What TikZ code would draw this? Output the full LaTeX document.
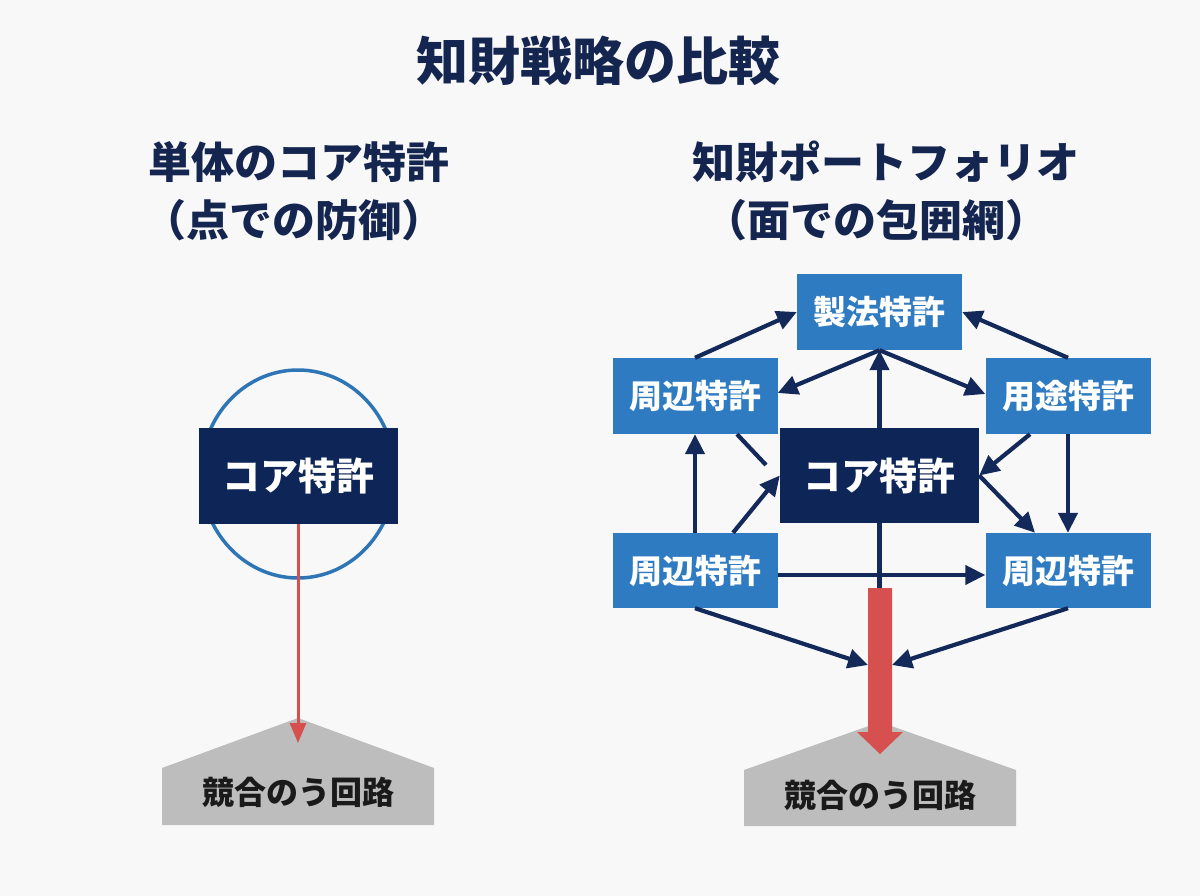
\documentclass[tikz,border=0pt]{standalone}
\usepackage{fontspec}
\usetikzlibrary{arrows.meta}
\newfontfamily\jp{Noto Sans CJK JP}
\definecolor{bg}{HTML}{F8F8F9}
\definecolor{navy}{HTML}{14254F}
\definecolor{corefill}{HTML}{0E2557}
\definecolor{arrnavy}{HTML}{13295A}
\definecolor{pblue}{HTML}{2F7BC1}
\definecolor{ringblue}{HTML}{2E75B6}
\definecolor{redc}{HTML}{D65050}
\definecolor{grayc}{HTML}{BDBDBD}
\definecolor{txtdark}{HTML}{1A1A1A}
\begin{document}
\begin{tikzpicture}[x=1pt,y=-1pt,
  titlestyle/.style={text=navy,font=\jp\bfseries\fontsize{52}{60}\selectfont,inner sep=0pt},
  headstyle/.style={text=navy,font=\jp\bfseries\fontsize{43}{50}\selectfont,inner sep=0pt},
  pbox/.style={fill=pblue,text=white,minimum width=165pt,minimum height=76pt,inner sep=0pt,font=\jp\bfseries\fontsize{33}{38}\selectfont},
  corebox/.style={fill=corefill,text=white,minimum width=199pt,minimum height=96pt,inner sep=0pt,font=\jp\bfseries\fontsize{38}{44}\selectfont},
  graytext/.style={text=txtdark,inner sep=0pt,font=\jp\bfseries\fontsize{32}{38}\selectfont},
  arr/.style={draw=arrnavy,line width=4.2pt,-{Triangle[length=20pt,width=19pt]}},
  plainline/.style={draw=arrnavy,line width=4.2pt},
  redarr/.style={draw=redc,line width=3pt,-{Triangle[length=20pt,width=16pt]}},
  pentagon/.style={fill=grayc}
]
\fill[bg] (0,0) rectangle (1200,896);
\useasboundingbox (0,0) rectangle (1200,896);

% title and headings
\node[titlestyle] (title) at (598,61) {知財戦略の比較};
\node[headstyle] (lh1) at (299,162) {単体のコア特許};
\node[headstyle] (lh2) at (294,220) {（点での防御）};
\node[headstyle] (rh1) at (886,162) {知財ポートフォリオ};
\node[headstyle] (rh2) at (876,220) {（面での包囲網）};

% ---------- left diagram ----------
\draw[ringblue,line width=3.5pt] (298,474) ellipse [x radius=97, y radius=104];
\node[corebox] (lcore) at (298,476) {コア特許};
\fill[pentagon] (162,768) -- (298,718) -- (434,768) -- (434,825) -- (162,825) -- cycle;
\node[graytext] (lgoal) at (298,792) {競合のう回路};
\coordinate (ltip) at (298,743);
\draw[redarr] (lcore.south) -- (ltip);

% ---------- right diagram ----------
\node[pbox] (seiho) at (879.5,312) {製法特許};
\node[pbox] (tl) at (695,396) {周辺特許};
\node[pbox] (yoto) at (1068,396) {用途特許};
\node[pbox,minimum height=75pt] (bl) at (695,570.5) {周辺特許};
\node[pbox,minimum height=75pt] (br) at (1068,570.5) {周辺特許};
\node[corebox,minimum height=95pt] (rcore) at (879.5,475.5) {コア特許};

\fill[pentagon] (744,770) -- (880,722) -- (1016,770) -- (1016,826) -- (744,826) -- cycle;
\node[graytext] (rgoal) at (880,795) {競合のう回路};

\coordinate (tlend) at (766,465);
\coordinate (redtop) at (879.5,590);
\coordinate (redL) at (868,665);
\coordinate (redR) at (892,665);

\draw[arr] (tl.north) -- (seiho.west);
\draw[arr] (yoto.north) -- (seiho.east);
\draw[arr] (seiho.south) -- ([yshift=3pt]tl.east);
\draw[arr] (seiho.south) -- ([yshift=2pt]yoto.west);
\draw[arr] (rcore.north) -- (seiho.south);
\draw[arr] (bl.north) -- (tl.south);
\draw[arr] ([xshift=38pt]bl.north) -- (rcore.west);
\draw[plainline] ([xshift=42pt]tl.south) -- (tlend);
\draw[arr] ([xshift=-38pt]yoto.south) -- (rcore.east);
\draw[arr] (rcore.east) -- ([xshift=-33pt]br.north);
\draw[arr] (yoto.south) -- (br.north);
\draw[plainline] (rcore.south) -- (redtop);
\draw[arr] ([yshift=-4.5pt]bl.east) -- ([yshift=-4.5pt]br.west);
\draw[arr] (bl.south) -- (redL);
\draw[arr] (br.south) -- (redR);

% big red arrow
\fill[redc] (868,588) -- (892,588) -- (892,732) -- (903,732) -- (880,754) -- (857,732) -- (868,732) -- cycle;
\end{tikzpicture}
\end{document}
